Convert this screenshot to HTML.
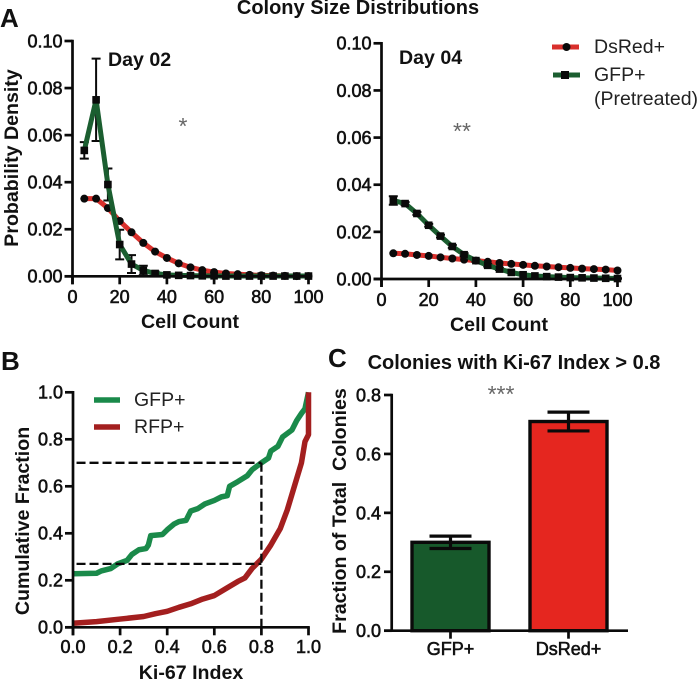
<!DOCTYPE html>
<html lang="en">
<head>
<meta charset="utf-8">
<title>Colony Size Distributions</title>
<style>
html,body{margin:0;padding:0;background:#fff;width:699px;height:681px;overflow:hidden}
svg{display:block}
text{font-family:"Liberation Sans",Arial,sans-serif;fill:#111}
.tick{font-size:18px;font-weight:normal;stroke:#111;stroke-width:0.6px}
.axt{font-size:19.6px;font-weight:bold}
.leg{font-size:19.5px;fill:#222}
.pan{font-size:26px;font-weight:bold}
.star{font-size:23px;fill:#666}
</style>
</head>
<body>
<svg id="fig" xmlns="http://www.w3.org/2000/svg" width="699" height="681" viewBox="0 0 699 681">
  <rect x="0" y="0" width="699" height="681" fill="#fff"/>
  <text x="358" y="14" text-anchor="middle" style="font-size:20px;font-weight:bold">Colony Size Distributions</text>
  <text class="pan" x="0" y="27">A</text>
  <text class="pan" x="1" y="370">B</text>
  <text class="pan" x="328" y="367">C</text>

  <text class="axt" x="108" y="66">Day 02</text>
  <text class="axt" x="399" y="64">Day 04</text>
  <text class="star" x="183" y="134" text-anchor="middle">*</text>
  <text class="star" x="462" y="139" text-anchor="middle">**</text>
  <text class="star" x="501" y="402" text-anchor="middle">***</text>

  <text class="axt" x="190" y="328" text-anchor="middle">Cell Count</text>
  <text class="axt" x="499" y="331" text-anchor="middle">Cell Count</text>
  <text class="axt" transform="translate(18,158) rotate(-90)" text-anchor="middle">Probability Density</text>
  <text class="axt" x="191" y="679" text-anchor="middle">Ki-67 Index</text>
  <text class="axt" transform="translate(29,521) rotate(-90)" text-anchor="middle">Cumulative Fraction</text>
  <text class="axt" transform="translate(346,511) rotate(-90)" text-anchor="middle" xml:space="preserve">Fraction of Total  Colonies</text>
  <text class="axt" x="514" y="369" text-anchor="middle" style="font-size:20px">Colonies with Ki-67 Index &gt; 0.8</text>

  <g>
    <line x1="552" y1="47" x2="579" y2="47" stroke="#d9302c" stroke-width="5"/>
    <circle cx="566.5" cy="47" r="4" fill="#0a0a0a"/>
    <text class="leg" x="594" y="53">DsRed+</text>
    <line x1="553" y1="75" x2="580" y2="75" stroke="#1b5e30" stroke-width="5"/>
    <rect x="561" y="71" width="8" height="8" fill="#0a0a0a"/>
    <text class="leg" x="594" y="81">GFP+</text>
    <text class="leg" x="594" y="105">(Pretreated)</text>
  </g>
  <g>
    <line x1="94" y1="400" x2="120" y2="400" stroke="#1a8a4a" stroke-width="5.5"/>
    <text class="leg" x="134" y="406">GFP+</text>
    <line x1="94" y1="427" x2="120" y2="427" stroke="#a31f1f" stroke-width="5.5"/>
    <text class="leg" x="134" y="433">RFP+</text>
  </g>
</svg>
<script>
// ---------- chart data ----------
const cellBins = [5,10,15,20,25,30,35,40,45,50,55,60,65,70,75,80,85,90,95,100];
const cellTicks = [0,20,40,60,80,100];
const densityTicks = [0,0.02,0.04,0.06,0.08,0.10];

const day2Red = [.033,.033,.029,.0235,.0187,.0142,.0105,.0078,.0055,.0038,.0026,.0018,.0012,.0009,.0006,.0004,.0003,.0002,.0001,.0001];
const day2Green = [.0535,.075,.039,.0135,.0052,.0025,.0012,.0006,.0004,.0003,.0002,.0002,.0001,.0001,.0001,.0001,.0001,.0001,.0001,.0001];
const day2GreenErr = [.0035,.0175,.0068,.0063,.0038,.002,.0008,.0004,.0002,.0002,.0001,.0001,.0001,0,0,0,0,0,0,0];

const day4Red = [.0109,.0107,.0102,.0098,.0092,.0087,.0082,.0078,.0073,.0068,.0064,.006,.0056,.0053,.005,.0047,.0044,.0042,.004,.0036];
const day4Green = [.0333,.032,.0278,.0228,.0182,.0138,.0103,.0078,.0058,.0042,.0028,.0018,.0013,.001,.0008,.0006,.0005,.0004,.0003,.0002];
const day4GreenErr = [.0018,.0006,.0006,.0006,.0006,.0006,.0006,.0005,.0005,.0004,.0003,.0003,.0002,.0002,.0001,.0001,.0001,.0001,.0001,.0001];

const kiTicks = [0,0.2,0.4,0.6,0.8,1.0];
const gfpCdfX = [0,.1,.12,.16,.19,.23,.25,.28,.31,.32,.33,.38,.4,.43,.45,.48,.5,.53,.56,.6,.63,.655,.665,.7,.74,.76,.8,.83,.84,.87,.89,.93,.95,.97,.985,1];
const gfpCdfY = [.228,.23,.24,.25,.27,.285,.31,.33,.335,.35,.39,.395,.415,.44,.45,.455,.495,.505,.525,.54,.555,.56,.6,.62,.645,.67,.7,.72,.75,.77,.81,.84,.88,.91,.93,1];
const rfpCdfX = [0,.1,.2,.3,.35,.4,.45,.5,.55,.6,.65,.7,.73,.76,.8,.84,.88,.91,.94,.97,.985,1,1];
const rfpCdfY = [.017,.024,.035,.046,.058,.068,.085,.1,.12,.135,.165,.195,.21,.25,.29,.35,.42,.5,.6,.7,.79,.82,1];
const refFractions = [0.7,0.27];
const refIndex = [0.8];

const barCategories = ["GFP+","DsRed+"];
const barValues = [0.30,0.71];
const barErrors = [0.021,0.032];
const barTicks = [0,0.2,0.4,0.6,0.8];

// ---------- helpers ----------
const svg = document.getElementById('fig');
const NS = 'http://www.w3.org/2000/svg';
const AXW = 2.7;
function make(tag, attrs){
  const el = document.createElementNS(NS, tag);
  for (const k in attrs) el.setAttribute(k, attrs[k]);
  svg.appendChild(el);
  return el;
}
function linear(d0,d1,r0,r1){ return v => r0 + (v-d0)/(d1-d0)*(r1-r0); }

function drawAxes(prefix, sx, sy, xTicks, yTicks, xDec, yDec, xLabelY, yLabelRight, xLeftExtra){
  const x0 = sx(xTicks[0]), xN = sx(xTicks[xTicks.length-1]);
  const y0 = sy(yTicks[0]), yN = sy(yTicks[yTicks.length-1]);
  const ya = make('line',{x1:x0,y1:yN-1.3,x2:x0,y2:y0+8,stroke:'#0a0a0a','stroke-width':AXW});
  
  
  const xa = make('line',{x1:x0-xLeftExtra,y1:y0,x2:xN+1.3,y2:y0,stroke:'#0a0a0a','stroke-width':AXW});
  
  
  xTicks.forEach(t => {
    const m = make('line',{x1:sx(t),y1:y0,x2:sx(t),y2:y0+8,stroke:'#0a0a0a','stroke-width':AXW});
    
    
    const l = make('text',{x:sx(t),y:xLabelY,'text-anchor':'middle',class:'tick'});
    l.textContent = t.toFixed(xDec);
    
    
  });
  yTicks.forEach(t => {
    const m = make('line',{x1:x0-8,y1:sy(t),x2:x0,y2:sy(t),stroke:'#0a0a0a','stroke-width':AXW});
    
    
    const l = make('text',{x:yLabelRight,y:sy(t)+6.4,'text-anchor':'end',class:'tick'});
    l.textContent = t.toFixed(yDec);
    
    
  });
}
function drawLine(name, xs, ys, sx, sy, color, width){
  const pts = xs.map((x,i)=>sx(x).toFixed(2)+','+sy(ys[i]).toFixed(2)).join(' ');
  const p = make('polyline',{points:pts,fill:'none',stroke:color,'stroke-width':width,'stroke-linejoin':'round'});
  
  
}
function drawDistribution(prefix, sx, sy, red, green, err){
  drawLine(prefix+'-dsred-line', cellBins, red, sx, sy, '#d9302c', 5);
  cellBins.forEach((b,i)=>{
    const c = make('circle',{cx:sx(b),cy:sy(red[i]),r:4,fill:'#0a0a0a'});
    
    
  });
  cellBins.forEach((b,i)=>{
    const e = err[i];
    if (e <= 0) return;
    const cap = 4.5;
    const d = 'M'+sx(b)+' '+sy(green[i]-e)+'V'+sy(green[i]+e)+
      'M'+(sx(b)-cap)+' '+sy(green[i]+e)+'h'+(2*cap)+
      'M'+(sx(b)-cap)+' '+sy(green[i]-e)+'h'+(2*cap);
    const p = make('path',{d:d,fill:'none',stroke:'#0a0a0a','stroke-width':2});
    
    
  });
  drawLine(prefix+'-gfp-line', cellBins, green, sx, sy, '#1b5e30', 5);
  cellBins.forEach((b,i)=>{
    const r = make('rect',{x:sx(b)-3.8,y:sy(green[i])-3.8,width:7.6,height:7.6,fill:'#0a0a0a'});
    
    
  });
}

// ---------- panel A, day 2 ----------
const d2x = linear(0,100,72.5,308.5), d2y = linear(0,0.1,276.3,41);
drawDistribution('day-02', d2x, d2y, day2Red, day2Green, day2GreenErr);
drawAxes('day-02', d2x, d2y, cellTicks, densityTicks, 0, 2, 303, 62.5, 8);

// ---------- panel A, day 4 ----------
const d4x = linear(0,100,381.5,617.5), d4y = linear(0,0.1,279,43.3);
drawDistribution('day-04', d4x, d4y, day4Red, day4Green, day4GreenErr);
drawAxes('day-04', d4x, d4y, cellTicks, densityTicks, 0, 2, 306, 371.5, 8);

// ---------- panel B ----------
const bx = linear(0,1,73,308.5), by = linear(0,1,627.3,392.3);
drawLine('gfp-cdf-line', gfpCdfX, gfpCdfY, bx, by, '#1a8a4a', 5.5);
drawLine('rfp-cdf-line', rfpCdfX, rfpCdfY, bx, by, '#a31f1f', 5.5);
drawAxes('cdf', bx, by, kiTicks, kiTicks, 1, 1, 653, 63, 8);
refFractions.forEach(f=>{
  const l = make('line',{x1:bx(0.015),y1:by(f),x2:bx(refIndex[0]),y2:by(f),stroke:'#0a0a0a','stroke-width':2.3,'stroke-dasharray':'9 4'});
  
  
});
const refV = make('line',{x1:bx(refIndex[0]),y1:by(refFractions[0]),x2:bx(refIndex[0]),y2:by(0),stroke:'#0a0a0a','stroke-width':2.3,'stroke-dasharray':'9 4'});



// ---------- panel C ----------
const cy = linear(0,0.8,630.7,395);
const barCentre = linear(0,1,450.5,568.5);
const barColors = ['#17592b','#e5261f'];
const barHalf = 38.5, capHalf = 21;
barCategories.forEach((cat,i)=>{
  const cx = barCentre(i);
  const r = make('rect',{x:cx-barHalf,y:cy(barValues[i]),width:2*barHalf,height:cy(0)-cy(barValues[i]),fill:barColors[i],stroke:'#0a0a0a','stroke-width':3.4});
  
  
  const hi = cy(barValues[i]+barErrors[i]), lo = cy(barValues[i]-barErrors[i]);
  const e = make('path',{d:'M'+cx+' '+lo+'V'+hi+'M'+(cx-capHalf)+' '+hi+'h'+(2*capHalf)+'M'+(cx-capHalf)+' '+lo+'h'+(2*capHalf),fill:'none',stroke:'#0a0a0a','stroke-width':3.2});
  
  
  const t = make('line',{x1:cx,y1:cy(0),x2:cx,y2:cy(0)+8,stroke:'#0a0a0a','stroke-width':AXW});
  
  
  const l = make('text',{x:cx,y:655,'text-anchor':'middle',class:'tick'});
  l.textContent = cat;
  
  
});
const barYAxis = make('line',{x1:391.7,y1:cy(0.8)-1.3,x2:391.7,y2:cy(0)+1.3,stroke:'#0a0a0a','stroke-width':AXW});


const barXAxis = make('line',{x1:384,y1:cy(0),x2:628,y2:cy(0),stroke:'#0a0a0a','stroke-width':AXW});


barTicks.forEach(v=>{
  const m = make('line',{x1:384,y1:cy(v),x2:391.7,y2:cy(v),stroke:'#0a0a0a','stroke-width':AXW});
  
  
  const l = make('text',{x:381,y:cy(v)+6.4,'text-anchor':'end',class:'tick'});
  l.textContent = v.toFixed(1);
  
  
});
</script>
</body>
</html>
